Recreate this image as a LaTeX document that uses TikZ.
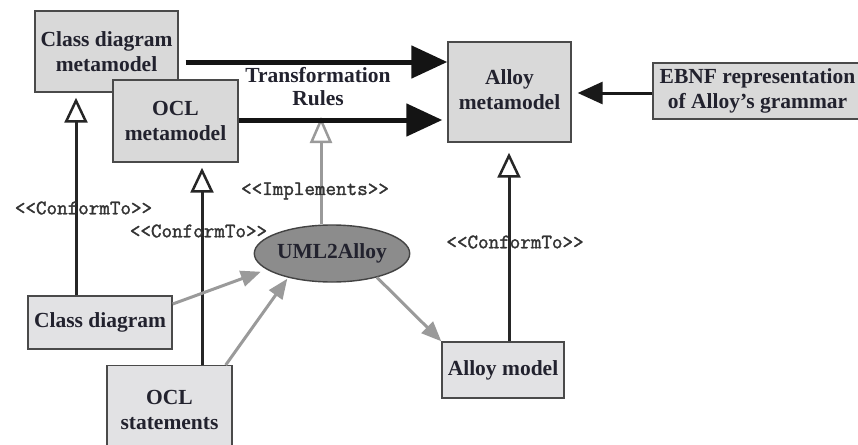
\documentclass[tikz,border=0pt]{standalone}
\usepackage{fontspec}
\setmainfont{Liberation Serif}
\newfontfamily\monof[FakeBold=1.6]{Latin Modern Mono}
\usetikzlibrary{arrows.meta,shapes.geometric}
\definecolor{boxline}{HTML}{4A4A4A}
\definecolor{boxfillA}{HTML}{D9D9D9}
\definecolor{boxfillB}{HTML}{E2E2E4}
\definecolor{txt}{HTML}{22222E}
\definecolor{grayarrow}{HTML}{9A9A9A}
\definecolor{ellfill}{HTML}{8C8C8C}
\begin{document}
\begin{tikzpicture}[x=1pt,y=-1pt,
  box/.style={draw=boxline, line width=1.4pt, fill=boxfillA, inner sep=0pt, align=center,
    font=\fontsize{21.5}{25}\selectfont\bfseries, text=txt},
  lowbox/.style={box, fill=boxfillB},
  lbl/.style={font=\monof\fontsize{20.5}{22}\selectfont, text=black!80, inner sep=0pt},
  bigarrow/.style={line width=5pt, draw=black!92, -{Triangle[length=36pt,width=32pt]}},
  midarrow/.style={line width=3pt, draw=black!90, -{Triangle[length=25pt,width=22pt]}},
  conf/.style={line width=3pt, draw=black!85, -{Triangle[length=25pt,width=23pt,fill=white,line width=2.5pt]}},
  impl/.style={line width=3pt, draw=grayarrow, -{Triangle[length=26pt,width=22pt,fill=white,line width=2.5pt]}},
  grayarr/.style={line width=3pt, draw=grayarrow, -{Triangle[length=20pt,width=16pt]}}
]
\useasboundingbox (0,0) rectangle (858,444);

% nodes
\node[box, minimum width=143pt, minimum height=81pt] (cdm) at (106.5,51.5) {Class diagram\\metamodel};
\node[box, minimum width=125pt, minimum height=82pt] (oclm) at (175.5,121) {OCL\\metamodel};
\node[box, minimum width=123pt, minimum height=100pt] (alloy) at (509.5,92) {\raisebox{-6pt}{\begin{tabular}{@{}c@{}}Alloy\\metamodel\end{tabular}}};
\node[box, minimum width=209pt, minimum height=56pt] (ebnf) at (757.5,91) {EBNF representation\\of Alloy's grammar};
\node[lowbox, minimum width=144pt, minimum height=53pt] (cd) at (100,322.5) {Class diagram};
\node[lowbox, minimum width=125pt, minimum height=85pt, anchor=north] (ocls) at (169.5,365) {\rule{0pt}{18pt}OCL\\statements};
\node[lowbox, minimum width=122pt, minimum height=56pt] (am) at (503,370) {Alloy model};
\node[ellipse, draw=boxline!90!black, line width=1.4pt, fill=ellfill, inner sep=0pt,
  minimum width=130pt, minimum height=57pt, font=\fontsize{21.5}{25}\selectfont\bfseries, text=txt] (uml) at (332,253.5) {UML2Alloy};
\node[font=\fontsize{21.5}{23}\selectfont\bfseries, text=txt, align=center, inner sep=0pt] (tr) at (318,86.5) {Transformation\\Rules};
\coordinate (trtip) at (321,117);

% implements (drawn under the thick arrows)
\draw[impl] (uml.north -| trtip) -- (trtip);

% thick arrows
\draw[bigarrow] ([xshift=7pt]cdm.east |- 0,62) -- (alloy.west |- 0,62);
\draw[bigarrow] (oclm.east |- 0,120) -- ([xshift=-5pt]alloy.west |- 0,120);
\draw[midarrow] (ebnf.west |- 0,93) -- ([xshift=6pt]alloy.east |- 0,93);

% conform-to lines
\draw[conf] (cd.north -| 76,0) -- ([yshift=-5pt]cdm.south -| 76,0);
\draw[conf] (ocls.north -| 202,0) -- ([yshift=-5pt]oclm.south -| 202,0);
\draw[conf] (am.north -| 509,0) -- ([yshift=-10pt]alloy.south -| 509,0);

% gray arrows
\draw[grayarr] ([yshift=18.5pt]cd.east) -- ([shift={(-6pt,-2pt)}]uml.194);
\draw[grayarr] ([xshift=-7pt]ocls.north east) -- ([shift={(-1pt,-1pt)}]uml.209);
\draw[grayarr] (uml.-28) -- (am.north west);

% labels
\node[lbl] (l1) at (83.5,208) {<{}<ConformTo>{}>};
\node[lbl] (l2) at (198.5,231) {<{}<ConformTo>{}>};
\node[lbl] (l3) at (315,191) {<{}<Implements>{}>};
\node[lbl] (l4) at (515,242) {<{}<ConformTo>{}>};
\end{tikzpicture}
\end{document}
